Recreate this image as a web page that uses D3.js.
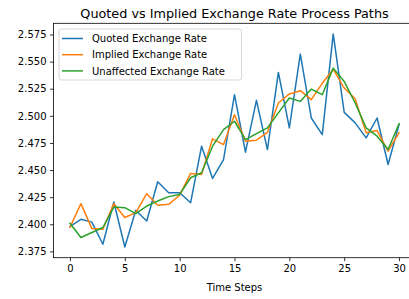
<!DOCTYPE html>
<html>
<head>
<meta charset="utf-8">
<script src="https://cdn.jsdelivr.net/npm/d3@7"></script>
<style>
  body { margin: 0; background: #fff; }
  svg { display: block; font-family: "DejaVu Sans", sans-serif; }
</style>
</head>
<body>
<div id="chart"></div>
<script>
// values
const steps = d3.range(0, 31);
const quoted = [2.3979, 2.4046, 2.402, 2.3816, 2.4205, 2.379, 2.4129, 2.403, 2.4392, 2.4291,
  2.4291, 2.4199, 2.472, 2.4423, 2.4597, 2.5195, 2.4665, 2.5143, 2.4689, 2.540,
  2.4889, 2.5569, 2.498, 2.4827, 2.5755, 2.5032, 2.4935, 2.4797, 2.498, 2.4551, 2.4919];
const implied = [2.397, 2.419, 2.396, 2.3954, 2.419, 2.4062, 2.4108, 2.4282, 2.4175, 2.4184,
  2.4268, 2.4469, 2.446, 2.4788, 2.4735, 2.501, 2.4766, 2.4775, 2.4848, 2.5118,
  2.5202, 2.5232, 2.5149, 2.530, 2.543, 2.5256, 2.5158, 2.4843, 2.4864, 2.4674, 2.4843];
const unaffected = [2.4009, 2.3878, 2.3924, 2.397, 2.4159, 2.4153, 2.4098, 2.4168, 2.4214, 2.4255,
  2.4275, 2.4429, 2.4475, 2.472, 2.4873, 2.495, 2.4781, 2.4836, 2.4889, 2.5027,
  2.5164, 2.5133, 2.5247, 2.5195, 2.544, 2.5317, 2.5118, 2.4889, 2.4812, 2.4689, 2.4928];
const seriesNames = ["Quoted Exchange Rate", "Implied Exchange Rate", "Unaffected Exchange Rate"];
const colors = ["#1f77b4", "#ff7f0e", "#2ca02c"];
const xTicks = [0, 5, 10, 15, 20, 25, 30];
const yTicks = [2.375, 2.4, 2.425, 2.45, 2.475, 2.5, 2.525, 2.55, 2.575];

const width = 409;
const height = 299;
const plot = { left: 53.5, right: 415.5, top: 23.3, bottom: 257.7 };

const svg = d3.select("#chart").append("svg")
  .attr("width", width)
  .attr("height", height);

// scales with matplotlib-like 5% margins
const xScale = d3.scaleLinear()
  .domain([-1.5, 31.5])
  .range([plot.left, plot.right]);

const all = quoted.concat(implied, unaffected);
const lo = d3.min(all), hi = d3.max(all);
const pad = (hi - lo) * 0.05;
const yScale = d3.scaleLinear()
  .domain([lo - pad, hi + pad])
  .range([plot.bottom, plot.top]);

// lines
const line = d3.line()
  .x((d, i) => xScale(steps[i]))
  .y((d) => yScale(d));

[quoted, implied, unaffected].forEach((s, k) => {
  svg.append("path")
    .datum(s)
    .attr("d", line)
    .attr("fill", "none")
    .attr("stroke", colors[k])
    .attr("stroke-width", 1.5)
    .attr("stroke-linejoin", "round")
    .attr("stroke-linecap", "square");
});

// Axis

const xAxis = svg.append("g")
  .attr("transform", `translate(0,${plot.bottom})`)
  .call(d3.axisBottom(xScale).tickValues(xTicks).tickSize(3.5).tickPadding(3.5).tickSizeOuter(0));
const yAxis = svg.append("g")
  .attr("transform", `translate(${plot.left},0)`)
  .call(d3.axisLeft(yScale).tickValues(yTicks).tickFormat(d3.format(".3f")).tickSize(3.5).tickPadding(3.5).tickSizeOuter(0));

[xAxis, yAxis].forEach((g) => {
  g.select(".domain").remove();
  g.selectAll(".tick line").attr("stroke", "#000").attr("stroke-width", 0.8);
  g.selectAll(".tick text").attr("fill", "#000").style("font-size", "10px")
    .style("font-family", "'DejaVu Sans', sans-serif");
});

// spines
svg.append("rect")
  .attr("x", plot.left)
  .attr("y", plot.top)
  .attr("width", plot.right - plot.left)
  .attr("height", plot.bottom - plot.top)
  .attr("fill", "none")
  .attr("stroke", "#000")
  .attr("stroke-width", 0.8);

// title and label
svg.append("text")
  .attr("x", (plot.left + plot.right) / 2)
  .attr("y", 18)
  .attr("text-anchor", "middle")
  .style("font-size", "12.8px")
  .text("Quoted vs Implied Exchange Rate Process Paths");

svg.append("text")
  .attr("x", (plot.left + plot.right) / 2)
  .attr("y", 290.5)
  .attr("text-anchor", "middle")
  .style("font-size", "10px")
  .text("Time Steps");

// legend
const legend = svg.append("g").attr("transform", "translate(59,29)");
legend.append("rect")
  .attr("width", 182.5)
  .attr("height", 51)
  .attr("rx", 2.5)
  .attr("fill", "#fff")
  .attr("fill-opacity", 0.8)
  .attr("stroke", "#cccccc")
  .attr("stroke-width", 0.8);

seriesNames.forEach((name, k) => {
  const y = 9.5 + k * 16.2;
  legend.append("line")
    .attr("x1", 3)
    .attr("x2", 24)
    .attr("y1", y)
    .attr("y2", y)
    .attr("stroke", colors[k])
    .attr("stroke-width", 1.5);
  legend.append("text")
    .attr("x", 33)
    .attr("y", y + 3.6)
    .style("font-size", "10px")
    .text(name);
});
</script>
</body>
</html>
